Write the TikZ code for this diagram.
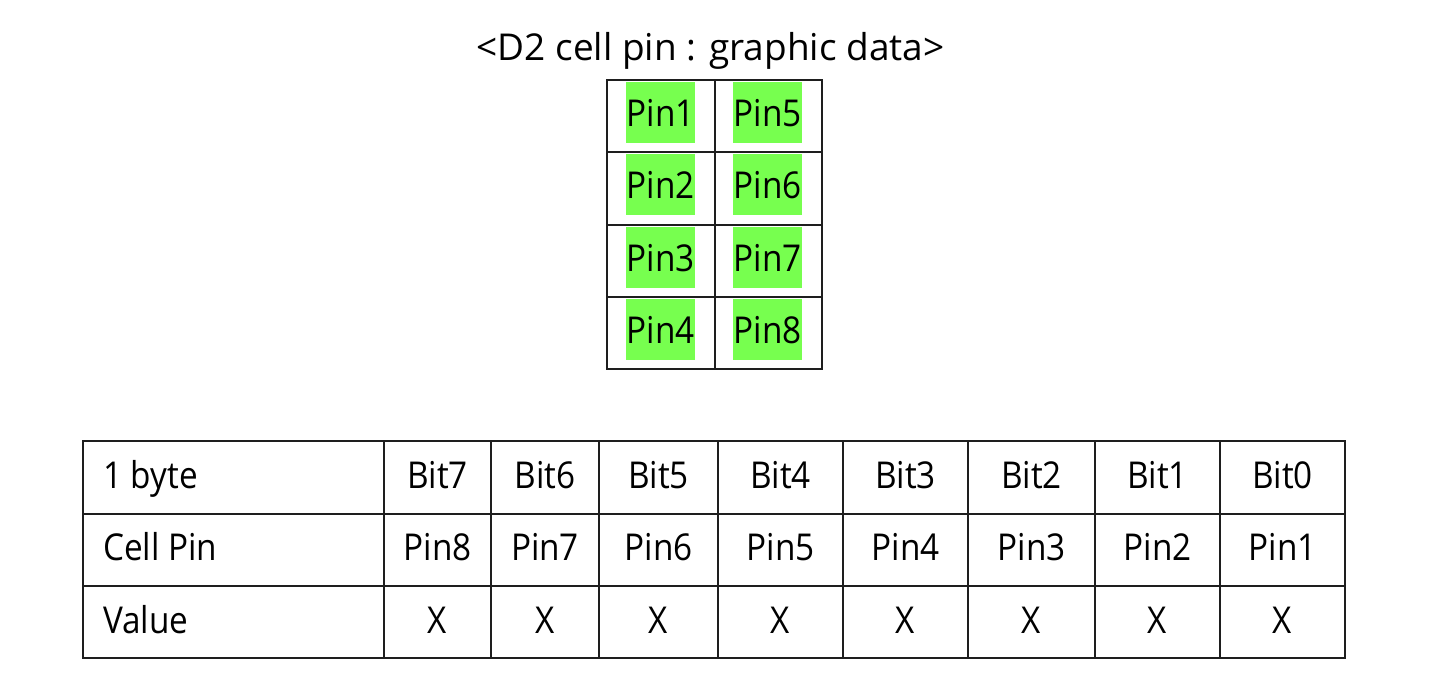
\documentclass[tikz,border=0pt]{standalone}
\usepackage{fontspec}
\setmainfont{Open Sans}
\newfontfamily\cellfont[FakeStretch=0.9]{Open Sans}
\definecolor{pingreen}{RGB}{119,255,79}
\definecolor{gridline}{RGB}{30,30,30}
\tikzset{
  txt/.style={inner sep=0pt, font=\cellfont\fontsize{37}{44}\selectfont},
  ttl/.style={inner sep=0pt, font=\fontsize{37}{44}\selectfont},
  gridln/.style={draw=gridline, line width=1.4pt},
  pinbox/.style={txt, fill=pingreen, minimum width=69pt, minimum height=61pt, text height=30.4pt, text depth=2pt},
}
\begin{document}
\begin{tikzpicture}[x=1pt,y=-1pt]
\useasboundingbox (0,0) rectangle (1434,672);
% title
\node[ttl, anchor=base] (title) at (710.5,60) {<D2 cell pin : graphic data>};
% top table grid
\draw[gridln] (607,80) rectangle (822,369);
\draw[gridln] (715,80) -- (715,369);
\foreach \y in {152,225,297} \draw[gridln] (607,\y) -- (822,\y);
% green pin boxes
\node[pinbox] (p1) at (660.5,112.5) {Pin1};
\node[pinbox] (p5) at (767.5,112.5) {Pin5};
\node[pinbox] (p2) at (660.5,184.5) {Pin2};
\node[pinbox] (p6) at (767.5,184.5) {Pin6};
\node[pinbox] (p3) at (660.5,257) {Pin3};
\node[pinbox] (p7) at (767.5,257) {Pin7};
\node[pinbox] (p4) at (660.5,329) {Pin4};
\node[pinbox] (p8) at (767.5,329) {Pin8};
% bottom table grid
\draw[gridln] (83,441) rectangle (1345,658);
\foreach \y in {514,586} \draw[gridln] (83,\y) -- (1345,\y);
\foreach \x in {384,491,599,718,843,968,1095,1220} \draw[gridln] (\x,441) -- (\x,658);
% row headers
\node[txt, anchor=base west] (h1) at (103,488) {1 byte};
\node[txt, anchor=base west] (h2) at (103,560.5) {Cell Pin};
\node[txt, anchor=base west] (h3) at (103,633) {Value};
% cells
\foreach \cx/\b/\p [count=\i] in {437.5/7/8, 545/6/7, 658.5/5/6, 780.5/4/5, 905.5/3/4, 1031.5/2/3, 1157.5/1/2, 1282.5/0/1}{
  \node[txt, anchor=base] (bit\i) at (\cx,488) {Bit\b};
  \node[txt, anchor=base] (pin\i) at (\cx,560.5) {Pin\p};
  \node[txt, anchor=base] (val\i) at (\cx,633) {X};
}
\end{tikzpicture}
\end{document}
